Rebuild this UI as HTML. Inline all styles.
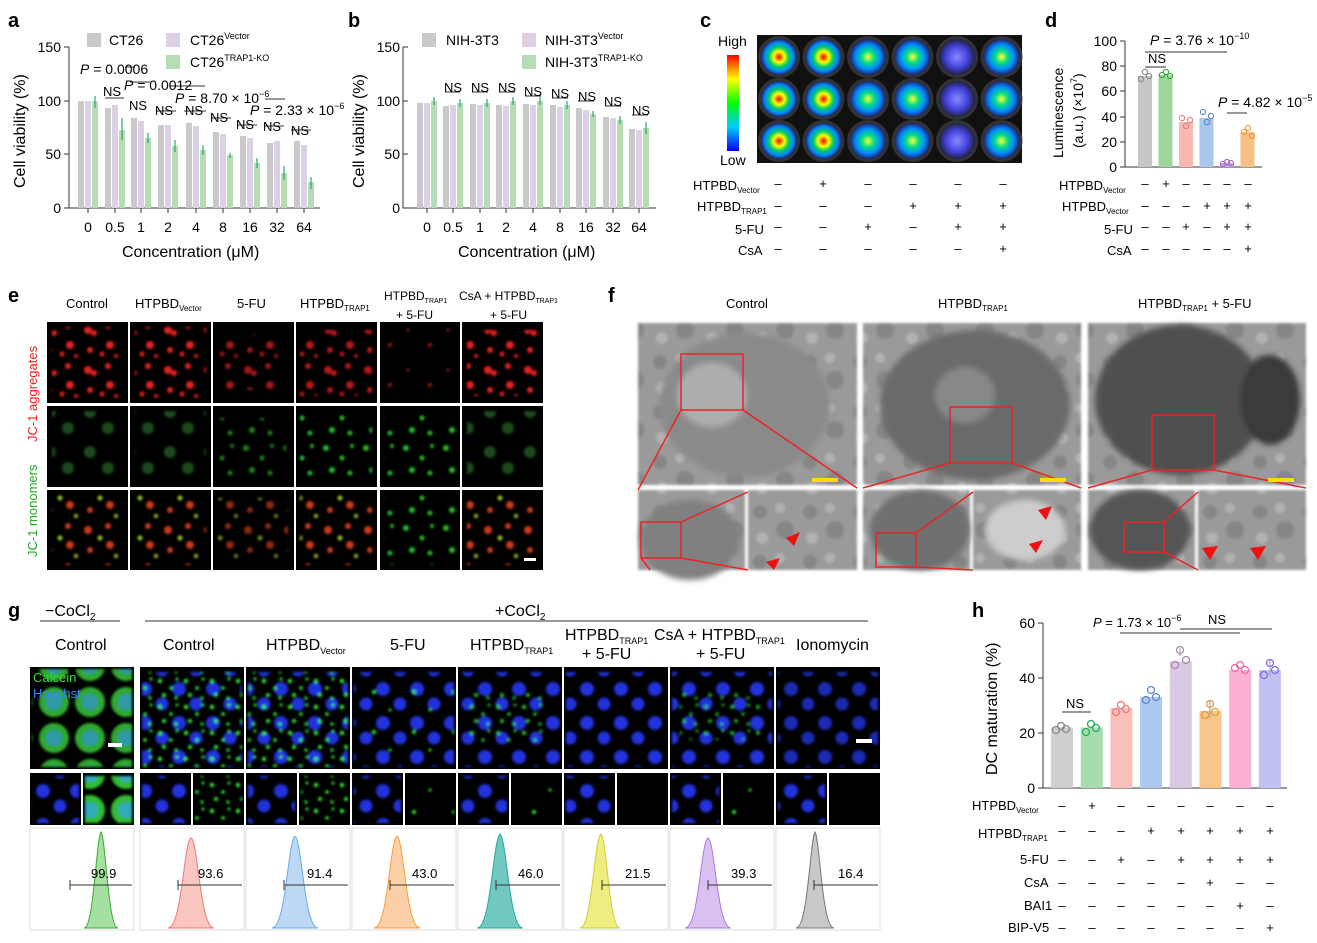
<!DOCTYPE html><html><head><meta charset="utf-8"><style>
body{margin:0;background:#fff}
svg{display:block;font-family:"Liberation Sans",sans-serif}
</style></head><body>
<svg width="1317" height="943" viewBox="0 0 1317 943" xmlns="http://www.w3.org/2000/svg">
<defs>
<radialGradient id="heat"><stop offset="0" stop-color="#e00"/><stop offset=".3" stop-color="#ff0"/><stop offset=".55" stop-color="#0c6"/><stop offset=".8" stop-color="#08f"/><stop offset="1" stop-color="#226"/></radialGradient>
<radialGradient id="heat2"><stop offset="0" stop-color="#ff3"/><stop offset=".35" stop-color="#0d8"/><stop offset=".7" stop-color="#08f"/><stop offset="1" stop-color="#226"/></radialGradient>
<radialGradient id="heat3"><stop offset="0" stop-color="#88f"/><stop offset=".6" stop-color="#44d"/><stop offset="1" stop-color="#224"/></radialGradient>
<linearGradient id="cbar" x1="0" y1="0" x2="0" y2="1"><stop offset="0" stop-color="#f00"/><stop offset=".25" stop-color="#ff0"/><stop offset=".5" stop-color="#0f0"/><stop offset=".75" stop-color="#0cf"/><stop offset="1" stop-color="#00f"/></linearGradient>
<pattern id="pr" width="40" height="40" patternUnits="userSpaceOnUse"><g fill="#f22" opacity=".9"><circle cx="8" cy="10" r="4"/><circle cx="14" cy="13" r="3"/><circle cx="28" cy="6" r="3"/><circle cx="30" cy="25" r="4"/><circle cx="10" cy="30" r="3"/><circle cx="22" cy="34" r="2.5"/><circle cx="36" cy="36" r="2"/></g></pattern>
<pattern id="pr2" width="40" height="40" patternUnits="userSpaceOnUse"><g fill="#f33" opacity=".6"><circle cx="8" cy="10" r="1.5"/><circle cx="30" cy="25" r="2"/></g></pattern>
<pattern id="pg" width="40" height="40" patternUnits="userSpaceOnUse"><g fill="#3d3" opacity=".85"><circle cx="6" cy="8" r="3"/><circle cx="22" cy="18" r="2.5"/><circle cx="32" cy="6" r="2"/><circle cx="12" cy="30" r="3"/><circle cx="30" cy="33" r="2.5"/></g></pattern>
<pattern id="pg2" width="40" height="40" patternUnits="userSpaceOnUse"><g fill="#1a4a1a"><circle cx="10" cy="12" r="6"/><circle cx="28" cy="28" r="6"/></g></pattern>
<pattern id="pm" width="40" height="40" patternUnits="userSpaceOnUse"><g fill="#e42" opacity=".85"><circle cx="8" cy="10" r="4"/><circle cx="28" cy="6" r="3"/><circle cx="30" cy="25" r="4"/><circle cx="10" cy="30" r="3"/></g><g fill="#9c2"><circle cx="20" cy="18" r="2.5"/><circle cx="36" cy="36" r="2"/></g></pattern>
<pattern id="pn" width="34" height="34" patternUnits="userSpaceOnUse"><g fill="#2233dd"><circle cx="9" cy="9" r="7"/><circle cx="26" cy="24" r="6.5"/></g></pattern>
<pattern id="pgd" width="26" height="26" patternUnits="userSpaceOnUse"><g fill="#3e3"><circle cx="4" cy="5" r="2.2"/><circle cx="15" cy="12" r="1.8"/><circle cx="21" cy="3" r="1.5"/><circle cx="8" cy="19" r="2"/><circle cx="20" cy="22" r="1.6"/></g></pattern>
<pattern id="pgs" width="40" height="40" patternUnits="userSpaceOnUse"><g fill="#3e3"><circle cx="14" cy="12" r="2"/><circle cx="30" cy="30" r="1.5"/></g></pattern>
<pattern id="pc" width="36" height="36" patternUnits="userSpaceOnUse"><circle cx="18" cy="18" r="15" fill="#3b3"/><circle cx="18" cy="18" r="8" fill="#3ab"/></pattern>
<pattern id="pem" width="50" height="50" patternUnits="userSpaceOnUse"><rect width="50" height="50" fill="#9a9a9a"/><g fill="#777" opacity=".6"><circle cx="10" cy="12" r="7"/><circle cx="35" cy="30" r="9"/></g><g fill="#c0c0c0" opacity=".6"><circle cx="30" cy="8" r="5"/><circle cx="12" cy="38" r="6"/></g></pattern>
<filter id="bl"><feGaussianBlur stdDeviation="1.2"/></filter>
<filter id="bl2"><feGaussianBlur stdDeviation="3"/></filter>
</defs>
<g font-weight="bold" font-size="20">
<text x="8" y="27">a</text><text x="348" y="27">b</text><text x="700" y="27">c</text><text x="1045" y="27">d</text>
<text x="8" y="302">e</text><text x="608" y="302">f</text><text x="8" y="617">g</text><text x="972" y="617">h</text></g>

<!-- panel a -->
<g stroke="#333" fill="none"><path d="M69,47V208H320M64,47H69M64,101H69M64,154H69M64,208H69M88,208v5M115,208v5M141,208v5M168,208v5M196,208v5M223,208v5M250,208v5M277,208v5M304,208v5"/>
<path d="M403,47V208H656M403,47H408M403,101H408M403,154H408M403,208H408M427,208v5M453,208v5M480,208v5M506,208v5M533,208v5M560,208v5M586,208v5M613,208v5M639,208v5"/></g>
<g font-size="14" text-anchor="end"><text x="61" y="52">150</text><text x="61" y="106">100</text><text x="61" y="159">50</text><text x="61" y="213">0</text>
<text x="400" y="52">150</text><text x="400" y="106">100</text><text x="400" y="159">50</text><text x="400" y="213">0</text></g>
<g font-size="14" text-anchor="middle"><text x="88" y="232">0</text><text x="115" y="232">0.5</text><text x="141" y="232">1</text><text x="168" y="232">2</text><text x="196" y="232">4</text><text x="223" y="232">8</text><text x="250" y="232">16</text><text x="277" y="232">32</text><text x="304" y="232">64</text>
<text x="427" y="232">0</text><text x="453" y="232">0.5</text><text x="480" y="232">1</text><text x="506" y="232">2</text><text x="533" y="232">4</text><text x="560" y="232">8</text><text x="586" y="232">16</text><text x="613" y="232">32</text><text x="639" y="232">64</text></g>
<g fill="#c9c9c9"><rect x="78" y="101" width="6" height="107"/><rect x="105" y="108" width="6" height="100"/><rect x="131" y="118" width="6" height="90"/><rect x="158" y="125" width="6" height="83"/><rect x="186" y="123" width="6" height="85"/><rect x="213" y="132" width="6" height="76"/><rect x="240" y="136" width="6" height="72"/><rect x="267" y="143" width="6" height="65"/><rect x="294" y="141" width="6" height="67"/>
<rect x="417" y="103" width="6" height="105"/><rect x="443" y="106" width="6" height="102"/><rect x="470" y="104" width="6" height="104"/><rect x="496" y="105" width="6" height="103"/><rect x="523" y="104" width="6" height="104"/><rect x="550" y="105" width="6" height="103"/><rect x="576" y="108" width="6" height="100"/><rect x="603" y="117" width="6" height="91"/><rect x="629" y="129" width="6" height="79"/>
<rect x="87" y="33" width="14" height="14"/><rect x="422" y="33" width="14" height="14"/></g>
<g fill="#dcd0e6"><rect x="85" y="101" width="6" height="107"/><rect x="112" y="105" width="6" height="103"/><rect x="138" y="121" width="6" height="87"/><rect x="165" y="125" width="6" height="83"/><rect x="193" y="126" width="6" height="82"/><rect x="220" y="134" width="6" height="74"/><rect x="247" y="138" width="6" height="70"/><rect x="274" y="141" width="6" height="67"/><rect x="301" y="145" width="6" height="63"/>
<rect x="424" y="103" width="6" height="105"/><rect x="450" y="105" width="6" height="103"/><rect x="477" y="105" width="6" height="103"/><rect x="503" y="106" width="6" height="102"/><rect x="530" y="105" width="6" height="103"/><rect x="557" y="107" width="6" height="101"/><rect x="583" y="110" width="6" height="98"/><rect x="610" y="118" width="6" height="90"/><rect x="636" y="130" width="6" height="78"/>
<rect x="166" y="33" width="14" height="14"/><rect x="522" y="33" width="14" height="14"/></g>
<g fill="#b5dcb3"><rect x="92" y="101" width="6" height="107"/><rect x="119" y="130" width="6" height="78"/><rect x="145" y="138" width="6" height="70"/><rect x="172" y="146" width="6" height="62"/><rect x="200" y="150" width="6" height="58"/><rect x="227" y="155" width="6" height="53"/><rect x="254" y="163" width="6" height="45"/><rect x="281" y="173" width="6" height="35"/><rect x="308" y="182" width="6" height="26"/>
<rect x="431" y="101" width="6" height="107"/><rect x="457" y="103" width="6" height="105"/><rect x="484" y="103" width="6" height="105"/><rect x="510" y="101" width="6" height="107"/><rect x="537" y="101" width="6" height="107"/><rect x="564" y="105" width="6" height="103"/><rect x="590" y="114" width="6" height="94"/><rect x="617" y="120" width="6" height="88"/><rect x="643" y="128" width="6" height="80"/>
<rect x="166" y="55" width="14" height="14"/><rect x="522" y="55" width="14" height="14"/></g>
<g stroke="#2a7" stroke-width="1.2"><path d="M95,96v12M122,118v22M148,133v10M175,140v12M203,145v10M230,153v5M257,158v10M284,166v14M311,177v12M434,97v8M460,99v8M487,99v8M513,97v8M540,97v8M567,101v8M593,111v6M620,116v8M646,122v12"/></g>
<path d="M105,98H124M130,82H150M156,111H176M184,111H206M211,118H231M237,125H257M264,126H284M291,130H311M170,86H205M265,99H285M125,67H135M445,92H460M472,92H488M499,92H515M525,96H541M552,98H568M578,101H594M605,106H621M632,115H648" stroke="#333"/>
<g font-size="13"><text x="103" y="96">NS</text><text x="129" y="110">NS</text><text x="155" y="115">NS</text><text x="185" y="115">NS</text><text x="210" y="122">NS</text><text x="236" y="129">NS</text><text x="263" y="131">NS</text><text x="291" y="135">NS</text>
<text x="444" y="92">NS</text><text x="471" y="92">NS</text><text x="498" y="92">NS</text><text x="524" y="96">NS</text><text x="551" y="98">NS</text><text x="578" y="101">NS</text><text x="604" y="106">NS</text><text x="632" y="115">NS</text></g>
<g font-size="14">
<text x="109" y="45">CT26</text><text x="190" y="45">CT26<tspan font-size="9" dy="-6">Vector</tspan></text>
<text x="190" y="67">CT26<tspan font-size="9" dy="-6">TRAP1-KO</tspan></text>
<text x="80" y="74"><tspan font-style="italic">P</tspan> = 0.0006</text>
<text x="124" y="90"><tspan font-style="italic">P</tspan> = 0.0012</text>
<text x="175" y="103"><tspan font-style="italic">P</tspan> = 8.70 × 10<tspan font-size="9" dy="-6">−6</tspan></text>
<text x="250" y="115"><tspan font-style="italic">P</tspan> = 2.33 × 10<tspan font-size="9" dy="-6">−6</tspan></text>
<text x="122" y="257" font-size="16">Concentration (μM)</text>
<text transform="translate(25,188) rotate(-90)" font-size="16">Cell viability (%)</text>
<text x="446" y="45">NIH-3T3</text><text x="545" y="45">NIH-3T3<tspan font-size="9" dy="-6">Vector</tspan></text>
<text x="545" y="67">NIH-3T3<tspan font-size="9" dy="-6">TRAP1-KO</tspan></text>
<text x="458" y="257" font-size="16">Concentration (μM)</text>
<text transform="translate(364,188) rotate(-90)" font-size="16">Cell viability (%)</text>
<text x="718" y="46">High</text><text x="720" y="165">Low</text>
<text transform="translate(1063,158) rotate(-90)">Luminescence</text>
<text transform="translate(1083,148) rotate(-90)">(a.u.) (×10<tspan font-size="9" dy="-6">7</tspan><tspan dy="6">)</tspan></text>
<text x="1150" y="45"><tspan font-style="italic">P</tspan> = 3.76 × 10<tspan font-size="9" dy="-6">−10</tspan></text>
<text x="1218" y="107"><tspan font-style="italic">P</tspan> = 4.82 × 10<tspan font-size="9" dy="-6">−5</tspan></text>
<text x="1148" y="63" font-size="13">NS</text>
</g>

<!-- panel c -->
<rect x="757" y="35" width="265" height="128" fill="#111"/><rect x="727" y="55" width="12" height="96" fill="url(#cbar)"/>
<g fill="#333"><circle cx="779" cy="57" r="21"/><circle cx="823.5" cy="57" r="21"/><circle cx="868" cy="57" r="21"/><circle cx="912.5" cy="57" r="21"/><circle cx="957" cy="57" r="21"/><circle cx="1001.5" cy="57" r="21"/>
<circle cx="779" cy="99" r="21"/><circle cx="823.5" cy="99" r="21"/><circle cx="868" cy="99" r="21"/><circle cx="912.5" cy="99" r="21"/><circle cx="957" cy="99" r="21"/><circle cx="1001.5" cy="99" r="21"/>
<circle cx="779" cy="141" r="21"/><circle cx="823.5" cy="141" r="21"/><circle cx="868" cy="141" r="21"/><circle cx="912.5" cy="141" r="21"/><circle cx="957" cy="141" r="21"/><circle cx="1001.5" cy="141" r="21"/></g>
<g fill="url(#heat)"><circle cx="779" cy="57" r="18"/><circle cx="823.5" cy="57" r="18"/><circle cx="779" cy="99" r="18"/><circle cx="823.5" cy="99" r="18"/><circle cx="779" cy="141" r="18"/><circle cx="823.5" cy="141" r="18"/></g>
<g fill="url(#heat2)"><circle cx="868" cy="57" r="18"/><circle cx="912.5" cy="57" r="18"/><circle cx="1001.5" cy="57" r="18"/><circle cx="868" cy="99" r="18"/><circle cx="912.5" cy="99" r="18"/><circle cx="1001.5" cy="99" r="18"/><circle cx="868" cy="141" r="18"/><circle cx="912.5" cy="141" r="18"/><circle cx="1001.5" cy="141" r="18"/></g>
<g fill="url(#heat3)"><circle cx="957" cy="57" r="18"/><circle cx="957" cy="99" r="18"/><circle cx="957" cy="141" r="18"/></g>
<g font-size="13">
<text x="693" y="190">HTPBD<tspan font-size="8" dy="3">Vector</tspan></text>
<text x="697" y="211">HTPBD<tspan font-size="8" dy="3">TRAP1</tspan></text>
<text x="735" y="234">5-FU</text><text x="738" y="255">CsA</text>
<text x="1059" y="190">HTPBD<tspan font-size="8" dy="3">Vector</tspan></text>
<text x="1062" y="211">HTPBD<tspan font-size="8" dy="3">Vector</tspan></text>
<text x="1104" y="234">5-FU</text><text x="1107" y="255">CsA</text></g>
<g font-size="13" text-anchor="middle">
<text x="778" y="188">–</text><text x="823" y="188">+</text><text x="868" y="188">–</text><text x="913" y="188">–</text><text x="958" y="188">–</text><text x="1003" y="188">–</text>
<text x="778" y="210">–</text><text x="823" y="210">–</text><text x="868" y="210">–</text><text x="913" y="210">+</text><text x="958" y="210">+</text><text x="1003" y="210">+</text>
<text x="778" y="231">–</text><text x="823" y="231">–</text><text x="868" y="231">+</text><text x="913" y="231">–</text><text x="958" y="231">+</text><text x="1003" y="231">+</text>
<text x="778" y="253">–</text><text x="823" y="253">–</text><text x="868" y="253">–</text><text x="913" y="253">–</text><text x="958" y="253">–</text><text x="1003" y="253">+</text>
<text x="1145" y="188">–</text><text x="1166" y="188">+</text><text x="1186" y="188">–</text><text x="1207" y="188">–</text><text x="1227" y="188">–</text><text x="1248" y="188">–</text>
<text x="1145" y="210">–</text><text x="1166" y="210">–</text><text x="1186" y="210">–</text><text x="1207" y="210">+</text><text x="1227" y="210">+</text><text x="1248" y="210">+</text>
<text x="1145" y="231">–</text><text x="1166" y="231">–</text><text x="1186" y="231">+</text><text x="1207" y="231">–</text><text x="1227" y="231">+</text><text x="1248" y="231">+</text>
<text x="1145" y="253">–</text><text x="1166" y="253">–</text><text x="1186" y="253">–</text><text x="1207" y="253">–</text><text x="1227" y="253">–</text><text x="1248" y="253">+</text></g>

<!-- panel d -->
<path d="M1125,41V167H1262M1120,167H1125M1120,142H1125M1120,117H1125M1120,91H1125M1120,66H1125M1120,41H1125M1145,52H1227M1145,67H1166M1227,113H1247" stroke="#333" fill="none"/>
<g font-size="14" text-anchor="end"><text x="1117" y="172">0</text><text x="1117" y="147">20</text><text x="1117" y="122">40</text><text x="1117" y="96">60</text><text x="1117" y="71">80</text><text x="1117" y="46">100</text></g>
<rect x="1138" y="76" width="14" height="91" fill="#c6c6c6"/><rect x="1158.5" y="75" width="14" height="92" fill="#9fd59c"/><rect x="1179" y="122" width="14" height="45" fill="#f7b9b0"/><rect x="1199.5" y="118" width="14" height="49" fill="#a9c6ec"/><rect x="1220" y="163" width="14" height="4" fill="#c9a3de"/><rect x="1240.5" y="132" width="14" height="35" fill="#f8c184"/>
<g fill="none" stroke-width="1.1"><g stroke="#888"><circle cx="1141" cy="79" r="2.6"/><circle cx="1145" cy="72" r="2.6"/><circle cx="1149" cy="76" r="2.6"/></g><g stroke="#3a3"><circle cx="1162" cy="75" r="2.6"/><circle cx="1166" cy="72" r="2.6"/><circle cx="1170" cy="76" r="2.6"/></g><g stroke="#e77"><circle cx="1182" cy="118" r="2.6"/><circle cx="1186" cy="126" r="2.6"/><circle cx="1190" cy="120" r="2.6"/></g><g stroke="#58c"><circle cx="1203" cy="112" r="2.6"/><circle cx="1207" cy="122" r="2.6"/><circle cx="1211" cy="116" r="2.6"/></g><g stroke="#a6c"><circle cx="1223" cy="164" r="2.6"/><circle cx="1227" cy="162" r="2.6"/><circle cx="1231" cy="163" r="2.6"/></g><g stroke="#e93"><circle cx="1244" cy="132" r="2.6"/><circle cx="1248" cy="128" r="2.6"/><circle cx="1252" cy="136" r="2.6"/></g></g>

<!-- panel e -->
<g font-size="13">
<text x="66" y="308">Control</text><text x="135" y="308">HTPBD<tspan font-size="8" dy="3">Vector</tspan></text>
<text x="237" y="308">5-FU</text><text x="300" y="308">HTPBD<tspan font-size="8" dy="3">TRAP1</tspan></text>
<text x="384" y="300" font-size="12">HTPBD<tspan font-size="7" dy="3">TRAP1</tspan></text><text x="396" y="319" font-size="12">+ 5-FU</text>
<text x="459" y="300" font-size="12">CsA + HTPBD<tspan font-size="7" dy="3">TRAP1</tspan></text><text x="490" y="319" font-size="12">+ 5-FU</text>
<text transform="translate(37,442) rotate(-90)" fill="#e22">JC-1 aggregates</text>
<text transform="translate(37,557) rotate(-90)" fill="#2a2">JC-1 monomers</text>
<text x="726" y="308">Control</text><text x="938" y="308">HTPBD<tspan font-size="8" dy="3">TRAP1</tspan></text>
<text x="1138" y="308">HTPBD<tspan font-size="8" dy="3">TRAP1</tspan><tspan dy="-3"> + 5-FU</tspan></text></g>
<g fill="#000"><rect x="47" y="322" width="81" height="81"/><rect x="130" y="322" width="81" height="81"/><rect x="213" y="322" width="81" height="81"/><rect x="296" y="322" width="81" height="81"/><rect x="380" y="322" width="80" height="81"/><rect x="462" y="322" width="81" height="81"/>
<rect x="47" y="406" width="81" height="81"/><rect x="130" y="406" width="81" height="81"/><rect x="213" y="406" width="81" height="81"/><rect x="296" y="406" width="81" height="81"/><rect x="380" y="406" width="80" height="81"/><rect x="462" y="406" width="81" height="81"/>
<rect x="47" y="490" width="81" height="80"/><rect x="130" y="490" width="81" height="80"/><rect x="213" y="490" width="81" height="80"/><rect x="296" y="490" width="81" height="80"/><rect x="380" y="490" width="80" height="80"/><rect x="462" y="490" width="81" height="80"/></g>
<g filter="url(#bl)">
<g fill="url(#pr)"><rect x="52" y="327" width="71" height="71"/><rect x="135" y="327" width="71" height="71"/><rect x="220" y="335" width="60" height="55" opacity=".7"/><rect x="300" y="330" width="72" height="66" opacity=".8"/><rect x="467" y="330" width="70" height="66"/></g>
<rect x="385" y="327" width="70" height="70" fill="url(#pr2)"/>
<g fill="url(#pg2)"><rect x="52" y="411" width="71" height="71"/><rect x="135" y="411" width="71" height="71"/><rect x="467" y="411" width="71" height="71"/></g>
<g fill="url(#pg)"><rect x="220" y="418" width="66" height="60" opacity=".7"/><rect x="300" y="412" width="72" height="70"/><rect x="384" y="412" width="72" height="70"/></g>
<g fill="url(#pm)"><rect x="52" y="495" width="71" height="70"/><rect x="135" y="495" width="71" height="70"/><rect x="218" y="498" width="70" height="64" opacity=".7"/><rect x="300" y="495" width="72" height="70"/><rect x="467" y="495" width="70" height="70"/></g>
<rect x="384" y="495" width="72" height="70" fill="url(#pg)"/></g>
<rect x="524" y="558" width="12" height="3" fill="#fff"/>

<!-- panel f -->
<g fill="url(#pem)" filter="url(#bl)"><rect x="638" y="323" width="219" height="162"/><rect x="863" y="323" width="218" height="162"/><rect x="1088" y="323" width="218" height="162"/>
<rect x="638" y="490" width="107" height="80"/><rect x="748" y="490" width="109" height="80"/><rect x="863" y="490" width="107" height="80"/><rect x="973" y="490" width="108" height="80"/><rect x="1088" y="490" width="107" height="80"/><rect x="1198" y="490" width="108" height="80"/></g>
<g filter="url(#bl2)"><ellipse cx="745" cy="405" rx="85" ry="72" fill="#8a8a8a"/><ellipse cx="975" cy="405" rx="95" ry="75" fill="#6a6a6a"/><ellipse cx="1180" cy="400" rx="85" ry="75" fill="#505050"/><ellipse cx="712" cy="395" rx="35" ry="32" fill="#adadad"/><ellipse cx="965" cy="395" rx="30" ry="28" fill="#888"/><ellipse cx="1270" cy="400" rx="30" ry="45" fill="#3a3a3a"/>
<ellipse cx="690" cy="540" rx="50" ry="40" fill="#808080"/><ellipse cx="920" cy="530" rx="50" ry="40" fill="#707070"/><ellipse cx="1140" cy="530" rx="50" ry="40" fill="#555"/><ellipse cx="1025" cy="530" rx="40" ry="30" fill="#ccc"/></g>
<g fill="none" stroke="#e22" stroke-width="1.5"><rect x="681" y="354" width="62" height="56"/><rect x="950" y="407" width="62" height="56"/><rect x="1152" y="415" width="62" height="55"/><rect x="641" y="522" width="40" height="36"/><rect x="876" y="533" width="40" height="34"/><rect x="1124" y="522" width="40" height="30"/>
<path d="M681,410L638,490M743,410L857,488M950,463L863,488M1012,463L1081,488M1152,470L1088,488M1214,470L1306,488M641,558L650,570M681,522L748,492M681,558L748,570M916,533L973,492M916,567L973,570M1164,522L1198,492M1164,552L1198,570"/></g>
<g fill="#fd0"><rect x="812" y="478" width="26" height="4"/><rect x="1040" y="478" width="26" height="4"/><rect x="1268" y="478" width="26" height="4"/></g>
<g fill="#e11"><polygon points="800,532 786,538 794,546"/><polygon points="780,558 766,562 774,570"/><polygon points="1052,506 1038,510 1046,520"/><polygon points="1043,540 1029,544 1036,553"/><polygon points="1218,546 1202,548 1210,560"/><polygon points="1266,546 1250,548 1258,560"/></g>

<!-- panel g -->
<path d="M40,621H120M145,621H868" stroke="#333"/>
<g font-size="16">
<text x="45" y="616">−CoCl<tspan font-size="10" dy="4">2</tspan></text>
<text x="495" y="616">+CoCl<tspan font-size="10" dy="4">2</tspan></text>
<text x="55" y="650">Control</text><text x="163" y="650">Control</text>
<text x="266" y="650">HTPBD<tspan font-size="9" dy="4">Vector</tspan></text>
<text x="390" y="650">5-FU</text>
<text x="470" y="650">HTPBD<tspan font-size="9" dy="4">TRAP1</tspan></text>
<text x="565" y="640">HTPBD<tspan font-size="9" dy="4">TRAP1</tspan></text><text x="582" y="659">+ 5-FU</text>
<text x="654" y="640">CsA + HTPBD<tspan font-size="9" dy="4">TRAP1</tspan></text><text x="696" y="659">+ 5-FU</text>
<text x="796" y="650">Ionomycin</text>
<text transform="translate(997,775) rotate(-90)">DC maturation (%)</text></g>
<g fill="#000"><rect x="30" y="667" width="104" height="102"/><rect x="140" y="667" width="104" height="102"/><rect x="246" y="667" width="104" height="102"/><rect x="352" y="667" width="104" height="102"/><rect x="458" y="667" width="104" height="102"/><rect x="564" y="667" width="104" height="102"/><rect x="670" y="667" width="104" height="102"/><rect x="776" y="667" width="104" height="102"/>
<rect x="30" y="773" width="51" height="52"/><rect x="83" y="773" width="51" height="52"/><rect x="140" y="773" width="51" height="52"/><rect x="193" y="773" width="51" height="52"/><rect x="246" y="773" width="51" height="52"/><rect x="299" y="773" width="51" height="52"/><rect x="352" y="773" width="51" height="52"/><rect x="405" y="773" width="51" height="52"/><rect x="458" y="773" width="51" height="52"/><rect x="511" y="773" width="51" height="52"/><rect x="564" y="773" width="51" height="52"/><rect x="617" y="773" width="51" height="52"/><rect x="670" y="773" width="51" height="52"/><rect x="723" y="773" width="51" height="52"/><rect x="776" y="773" width="51" height="52"/><rect x="829" y="773" width="51" height="52"/></g>
<g filter="url(#bl)">
<rect x="32" y="669" width="100" height="98" fill="url(#pc)" opacity=".9"/>
<rect x="32" y="776" width="47" height="47" fill="url(#pn)"/><rect x="85" y="776" width="47" height="47" fill="url(#pc)"/>
<g fill="url(#pn)"><rect x="142" y="672" width="100" height="95"/><rect x="248" y="672" width="100" height="95"/><rect x="354" y="672" width="100" height="95"/><rect x="460" y="672" width="100" height="95"/><rect x="566" y="672" width="100" height="95"/><rect x="672" y="672" width="100" height="95"/><rect x="778" y="672" width="100" height="95" opacity=".8"/>
<rect x="142" y="776" width="47" height="47"/><rect x="248" y="776" width="47" height="47"/><rect x="354" y="776" width="47" height="47"/><rect x="460" y="776" width="47" height="47"/><rect x="566" y="776" width="47" height="47"/><rect x="672" y="776" width="47" height="47"/><rect x="778" y="776" width="47" height="47"/></g>
<g fill="url(#pgd)"><rect x="142" y="672" width="100" height="95"/><rect x="248" y="672" width="100" height="95"/><rect x="195" y="776" width="47" height="47"/><rect x="301" y="776" width="47" height="47"/><rect x="465" y="690" width="80" height="55" opacity=".8"/><rect x="680" y="690" width="80" height="50" opacity=".7"/></g>
<g fill="url(#pgs)"><rect x="354" y="672" width="100" height="95"/><rect x="407" y="776" width="47" height="47"/><rect x="513" y="776" width="47" height="47"/><rect x="725" y="776" width="47" height="47"/></g></g>
<rect x="108" y="743" width="14" height="4" fill="#fff"/><rect x="856" y="739" width="16" height="4" fill="#fff"/>
<text x="33" y="682" font-size="13" fill="#3d3">Calcein</text><text x="33" y="698" font-size="13" fill="#38f">Hoechst</text>
<g fill="#fff" stroke="#ddd"><rect x="30" y="828" width="104" height="102"/><rect x="140" y="828" width="104" height="102"/><rect x="246" y="828" width="104" height="102"/><rect x="352" y="828" width="104" height="102"/><rect x="458" y="828" width="104" height="102"/><rect x="564" y="828" width="104" height="102"/><rect x="670" y="828" width="104" height="102"/><rect x="776" y="828" width="104" height="102"/></g>
<path d="M84,928C94,928 96,840 101,832C106,840 108,928 118,928Z" fill="#a6e0a0" stroke="#3a3"/>
<path d="M168,928C182,928 184,840 191,838C198,840 200,928 214,928Z" fill="#f9c6c0" stroke="#e77"/>
<path d="M272,928C286,928 288,840 295,836C302,840 304,928 318,928Z" fill="#bcd8f5" stroke="#6ae"/>
<path d="M374,928C388,928 390,840 397,836C404,840 406,928 420,928Z" fill="#fbd0a8" stroke="#f93"/>
<path d="M477,928C491,928 493,840 500,834C507,840 509,928 523,928Z" fill="#70c8c0" stroke="#2a9"/>
<path d="M580,928C592,928 594,840 601,834C607,840 609,928 620,928Z" fill="#eeee80" stroke="#cc3"/>
<path d="M685,928C699,928 701,840 708,838C715,840 717,928 731,928Z" fill="#d8c0f0" stroke="#a7d"/>
<path d="M796,928C808,928 810,840 815,832C820,840 822,928 834,928Z" fill="#c8c8c8" stroke="#777"/>
<path d="M70,885H132M70,880v10M178,885H242M178,880v10M284,885H348M284,880v10M390,885H454M390,880v10M496,885H560M496,880v10M602,885H666M602,880v10M708,885H772M708,880v10M814,885H878M814,880v10" stroke="#333" fill="none"/>
<g font-size="13"><text x="91" y="878">99.9</text><text x="198" y="878">93.6</text><text x="307" y="878">91.4</text><text x="412" y="878">43.0</text><text x="518" y="878">46.0</text><text x="625" y="878">21.5</text><text x="731" y="878">39.3</text><text x="838" y="878">16.4</text></g>

<!-- panel h -->
<path d="M1043,623V788H1287M1038,788H1043M1038,733H1043M1038,678H1043M1038,623H1043M1120,633H1180M1180,633H1240M1180,629H1272M1062,712H1091" stroke="#333" fill="none"/>
<g font-size="14" text-anchor="end"><text x="1035" y="793">0</text><text x="1035" y="738">20</text><text x="1035" y="683">40</text><text x="1035" y="628">60</text></g>
<rect x="1051" y="727.5" width="22" height="60.5" fill="#cfcfcf"/><rect x="1080.7" y="727.5" width="22" height="60.5" fill="#a7dcae"/><rect x="1110.4" y="708" width="22" height="80" fill="#f8c0b8"/><rect x="1140.1" y="697" width="22" height="91" fill="#adc9ef"/><rect x="1169.8" y="661.5" width="22" height="126.5" fill="#d8c8e2"/><rect x="1199.5" y="711" width="22" height="77" fill="#f9c68a"/><rect x="1229.2" y="670" width="22" height="118" fill="#fbb0d2"/><rect x="1258.9" y="670" width="22" height="118" fill="#c0c2f4"/>
<g fill="none" stroke-width="1.3">
<g stroke="#888"><circle cx="1056" cy="730" r="3.5"/><circle cx="1061" cy="726" r="3.5"/><circle cx="1066" cy="729" r="3.5"/></g>
<g stroke="#2a5"><circle cx="1086" cy="732" r="3.5"/><circle cx="1091" cy="724" r="3.5"/><circle cx="1096" cy="728" r="3.5"/></g>
<g stroke="#e77"><circle cx="1116" cy="712" r="3.5"/><circle cx="1121" cy="705" r="3.5"/><circle cx="1126" cy="709" r="3.5"/></g>
<g stroke="#58c"><circle cx="1146" cy="700" r="3.5"/><circle cx="1151" cy="690" r="3.5"/><circle cx="1156" cy="697" r="3.5"/></g>
<g stroke="#a8a"><circle cx="1175" cy="665" r="3.5"/><circle cx="1180" cy="650" r="3.5"/><circle cx="1186" cy="660" r="3.5"/></g>
<g stroke="#e93"><circle cx="1205" cy="715" r="3.5"/><circle cx="1210" cy="704" r="3.5"/><circle cx="1215" cy="712" r="3.5"/></g>
<g stroke="#e6a"><circle cx="1235" cy="668" r="3.5"/><circle cx="1240" cy="665" r="3.5"/><circle cx="1245" cy="670" r="3.5"/></g>
<g stroke="#86e"><circle cx="1264" cy="675" r="3.5"/><circle cx="1270" cy="663" r="3.5"/><circle cx="1275" cy="670" r="3.5"/></g></g>
<g stroke="#999"><path d="M1180,648V656M1210,700V718M1270,660V676"/></g>
<g font-size="13">
<text x="972" y="810">HTPBD<tspan font-size="8" dy="3">Vector</tspan></text>
<text x="978" y="838">HTPBD<tspan font-size="8" dy="3">TRAP1</tspan></text>
<text x="1020" y="864">5-FU</text><text x="1024" y="887">CsA</text><text x="1024" y="910">BAI1</text><text x="1008" y="932">BIP-V5</text>
<text x="1093" y="627"><tspan font-style="italic">P</tspan> = 1.73 × 10<tspan font-size="9" dy="-6">−6</tspan></text>
<text x="1066" y="708">NS</text><text x="1208" y="624">NS</text></g>
<g font-size="13" text-anchor="middle">
<text x="1062" y="810">–</text><text x="1092" y="810">+</text><text x="1121" y="810">–</text><text x="1151" y="810">–</text><text x="1181" y="810">–</text><text x="1210" y="810">–</text><text x="1240" y="810">–</text><text x="1270" y="810">–</text>
<text x="1062" y="835">–</text><text x="1092" y="835">–</text><text x="1121" y="835">–</text><text x="1151" y="835">+</text><text x="1181" y="835">+</text><text x="1210" y="835">+</text><text x="1240" y="835">+</text><text x="1270" y="835">+</text>
<text x="1062" y="864">–</text><text x="1092" y="864">–</text><text x="1121" y="864">+</text><text x="1151" y="864">–</text><text x="1181" y="864">+</text><text x="1210" y="864">+</text><text x="1240" y="864">+</text><text x="1270" y="864">+</text>
<text x="1062" y="887">–</text><text x="1092" y="887">–</text><text x="1121" y="887">–</text><text x="1151" y="887">–</text><text x="1181" y="887">–</text><text x="1210" y="887">+</text><text x="1240" y="887">–</text><text x="1270" y="887">–</text>
<text x="1062" y="910">–</text><text x="1092" y="910">–</text><text x="1121" y="910">–</text><text x="1151" y="910">–</text><text x="1181" y="910">–</text><text x="1210" y="910">–</text><text x="1240" y="910">+</text><text x="1270" y="910">–</text>
<text x="1062" y="932">–</text><text x="1092" y="932">–</text><text x="1121" y="932">–</text><text x="1151" y="932">–</text><text x="1181" y="932">–</text><text x="1210" y="932">–</text><text x="1240" y="932">–</text><text x="1270" y="932">+</text></g>
</svg></body></html>
